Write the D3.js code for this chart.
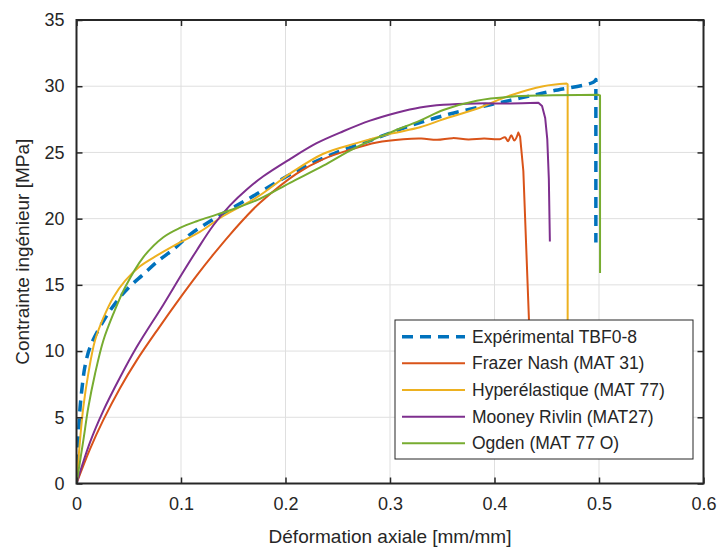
<!DOCTYPE html>
<html><head><meta charset="utf-8">
<script src="https://cdn.jsdelivr.net/npm/d3@7"></script>
<style>body{margin:0;background:#fff}svg{display:block}text{font-family:"Liberation Sans",Arial,sans-serif;fill:#262626}</style>
</head><body><svg id="c" width="719" height="547"></svg>
<script>
const seriesNames = ["Expérimental TBF0-8","Frazer Nash (MAT 31)","Hyperélastique (MAT 77)","Mooney Rivlin (MAT27)","Ogden (MAT 77 O)"];
const seriesColors = ["#0072BD","#D95319","#EDB120","#7E2F8E","#77AC30"];
const xTicks = [0,0.1,0.2,0.3,0.4,0.5,0.6];
const yTicks = [0,5,10,15,20,25,30,35];

const expX = [0,0.0017,0.003,0.005,0.008,0.013,0.026,0.038,0.050,0.064,0.078,0.093,0.1086,0.1278,0.1469,0.169,0.2107,0.2458,0.281,0.319,0.357,0.396,0.4244,0.453,0.4945,0.497,0.497];
const expY = [0,3.2,5.3,7.0,8.8,10.3,12.3,13.7,14.8,15.8,16.8,17.7,18.8,19.8,20.7,21.7,23.6,24.9,25.9,27.0,27.9,28.6,29.1,29.6,30.3,30.5,18.2];

const fnX = [0,0.0129,0.0257,0.0416,0.0576,0.0783,0.099,0.115,0.131,0.1469,0.1629,0.1756,0.2107,0.2362,0.2617,0.2873,0.3127,0.33,0.345,0.36,0.375,0.39,0.405,0.41,0.413,0.416,0.419,0.4228,0.4245,0.4276,0.433,0.436];
const fnY = [0,2.6,4.8,7.2,9.3,11.7,14.0,15.7,17.3,18.8,20.2,21.2,23.4,24.5,25.2,25.75,26.0,26.05,25.95,26.08,25.98,26.05,26.0,26.15,25.85,26.3,25.9,26.5,26.2,23.6,12.3,4];

const hyX = [0,0.0033,0.0065,0.0113,0.0177,0.0257,0.0352,0.0464,0.0608,0.0767,0.099,0.118,0.1405,0.1724,0.2043,0.2362,0.268,0.300,0.3287,0.351,0.383,0.415,0.4467,0.469,0.470,0.470];
const hyY = [0,3.2,5.75,8.3,10.8,12.5,14.05,15.3,16.4,17.2,18.2,19.0,20.2,21.6,23.4,24.9,25.7,26.4,26.9,27.5,28.3,29.3,30.0,30.2,30.15,4];

const mrX = [0,0.0129,0.0257,0.0416,0.0576,0.0831,0.1007,0.115,0.131,0.1469,0.1629,0.1788,0.2043,0.2298,0.2553,0.2809,0.3064,0.3287,0.351,0.383,0.415,0.442,0.4455,0.4485,0.4505,0.452,0.453];
const mrY = [0,3.1,5.5,8.0,10.3,13.5,15.8,17.6,19.5,21.0,22.2,23.2,24.5,25.7,26.6,27.4,28.0,28.4,28.6,28.7,28.7,28.75,28.5,27.6,26.0,23.0,18.27];

const ogX = [0,0.0065,0.0113,0.0177,0.0257,0.0352,0.0464,0.064,0.0831,0.099,0.115,0.134,0.153,0.1756,0.2043,0.2362,0.268,0.300,0.3287,0.351,0.383,0.415,0.4467,0.4994,0.501,0.501];
const ogY = [0,3.24,5.75,8.27,10.8,12.8,14.8,17.1,18.6,19.3,19.8,20.3,20.8,21.5,22.7,24.0,25.4,26.5,27.4,28.2,28.9,29.2,29.3,29.35,29.3,15.9];

const allX = [expX,fnX,hyX,mrX,ogX];
const allY = [expY,fnY,hyY,mrY,ogY];

const svg = d3.select("#c");
const L=76.5, R=703.5, T=20, B=483.5;
const x = d3.scaleLinear().domain([0,0.6]).range([L,R]);
const y = d3.scaleLinear().domain([0,35]).range([B,T]);
const ax = "#262626";

// grid
const g = svg.append("g");
g.selectAll(".gx").data(xTicks).join("line").attr("x1",d=>x(d)).attr("x2",d=>x(d)).attr("y1",T).attr("y2",B).attr("stroke","#dfdfdf").attr("stroke-width",1);
g.selectAll(".gy").data(yTicks).join("line").attr("y1",d=>y(d)).attr("y2",d=>y(d)).attr("x1",L).attr("x2",R).attr("stroke","#dfdfdf").attr("stroke-width",1);

// curves: smooth up to the failure peak (last maximum), straight for the drop
svg.append("clipPath").attr("id","clip").append("rect").attr("x",L).attr("y",T).attr("width",R-L).attr("height",B-T);
const smooth = d3.line().x(d=>x(d[0])).y(d=>y(d[1])).curve(d3.curveCatmullRom.alpha(0.5));
const straight = d3.line().x(d=>x(d[0])).y(d=>y(d[1]));
const cg = svg.append("g").attr("clip-path","url(#clip)");
allX.forEach((xs,i)=>{
  const ys = allY[i];
  const pts = xs.map((v,j)=>[v,ys[j]]);
  const m = d3.max(ys);
  let k = 0; ys.forEach((v,j)=>{ if(v===m) k=j; });
  const d = smooth(pts.slice(0,k+1)) + straight(pts.slice(k)).replace(/^M/,"L");
  const p = cg.append("path").attr("d",d).attr("fill","none")
    .attr("stroke",seriesColors[i]).attr("stroke-linejoin","round");
  if(i===0){p.attr("stroke-width",3.5).attr("stroke-dasharray","11,7");}
  else p.attr("stroke-width",2);
});

// axes
const xa = d3.axisBottom(x).tickValues(xTicks).tickFormat(d3.format("")).tickSizeInner(-6).tickSizeOuter(0).tickPadding(14);
const ya = d3.axisLeft(y).tickValues(yTicks).tickSizeInner(-6).tickSizeOuter(0).tickPadding(12);
const xg = svg.append("g").attr("transform",`translate(0,${B})`).call(xa);
const yg = svg.append("g").attr("transform",`translate(${L},0)`).call(ya);
const xt = svg.append("g").attr("transform",`translate(0,${T})`).call(d3.axisTop(x).tickValues(xTicks).tickSizeInner(-6).tickSizeOuter(0).tickFormat(""));
const yr = svg.append("g").attr("transform",`translate(${R},0)`).call(d3.axisRight(y).tickValues(yTicks).tickSizeInner(-6).tickSizeOuter(0).tickFormat(""));
[xg,yg,xt,yr].forEach(a=>{a.select(".domain").remove();a.selectAll("line").attr("stroke",ax).attr("stroke-width",1.5);a.selectAll("text").attr("font-size",18).attr("fill",ax).style("font-family","'Liberation Sans',Arial,sans-serif");});
svg.append("rect").attr("x",L).attr("y",T).attr("width",R-L).attr("height",B-T).attr("fill","none").attr("stroke",ax).attr("stroke-width",2);

// labels
svg.append("text").attr("x",(L+R)/2).attr("y",543).attr("text-anchor","middle").attr("font-size",19).text("Déformation axiale [mm/mm]");
svg.append("text").attr("transform",`translate(29,${(T+B)/2}) rotate(-90)`).attr("text-anchor","middle").attr("font-size",19).text("Contrainte ingénieur [MPa]");

// legend
const lg = svg.append("g");
lg.append("rect").attr("x",395).attr("y",320).attr("width",298).attr("height",139).attr("fill","#fff").attr("stroke",ax).attr("stroke-width",1);
seriesNames.forEach((n,i)=>{
  const yy = 336.7 + i*26.65;
  const l = lg.append("line").attr("x1",402).attr("x2",465).attr("y1",yy).attr("y2",yy).attr("stroke",seriesColors[i]);
  if(i===0) l.attr("stroke-width",3.5).attr("stroke-dasharray","11,7"); else l.attr("stroke-width",2);
  lg.append("text").attr("x",472).attr("y",yy+6).attr("font-size",17.5).text(n);
});
</script></body></html>
